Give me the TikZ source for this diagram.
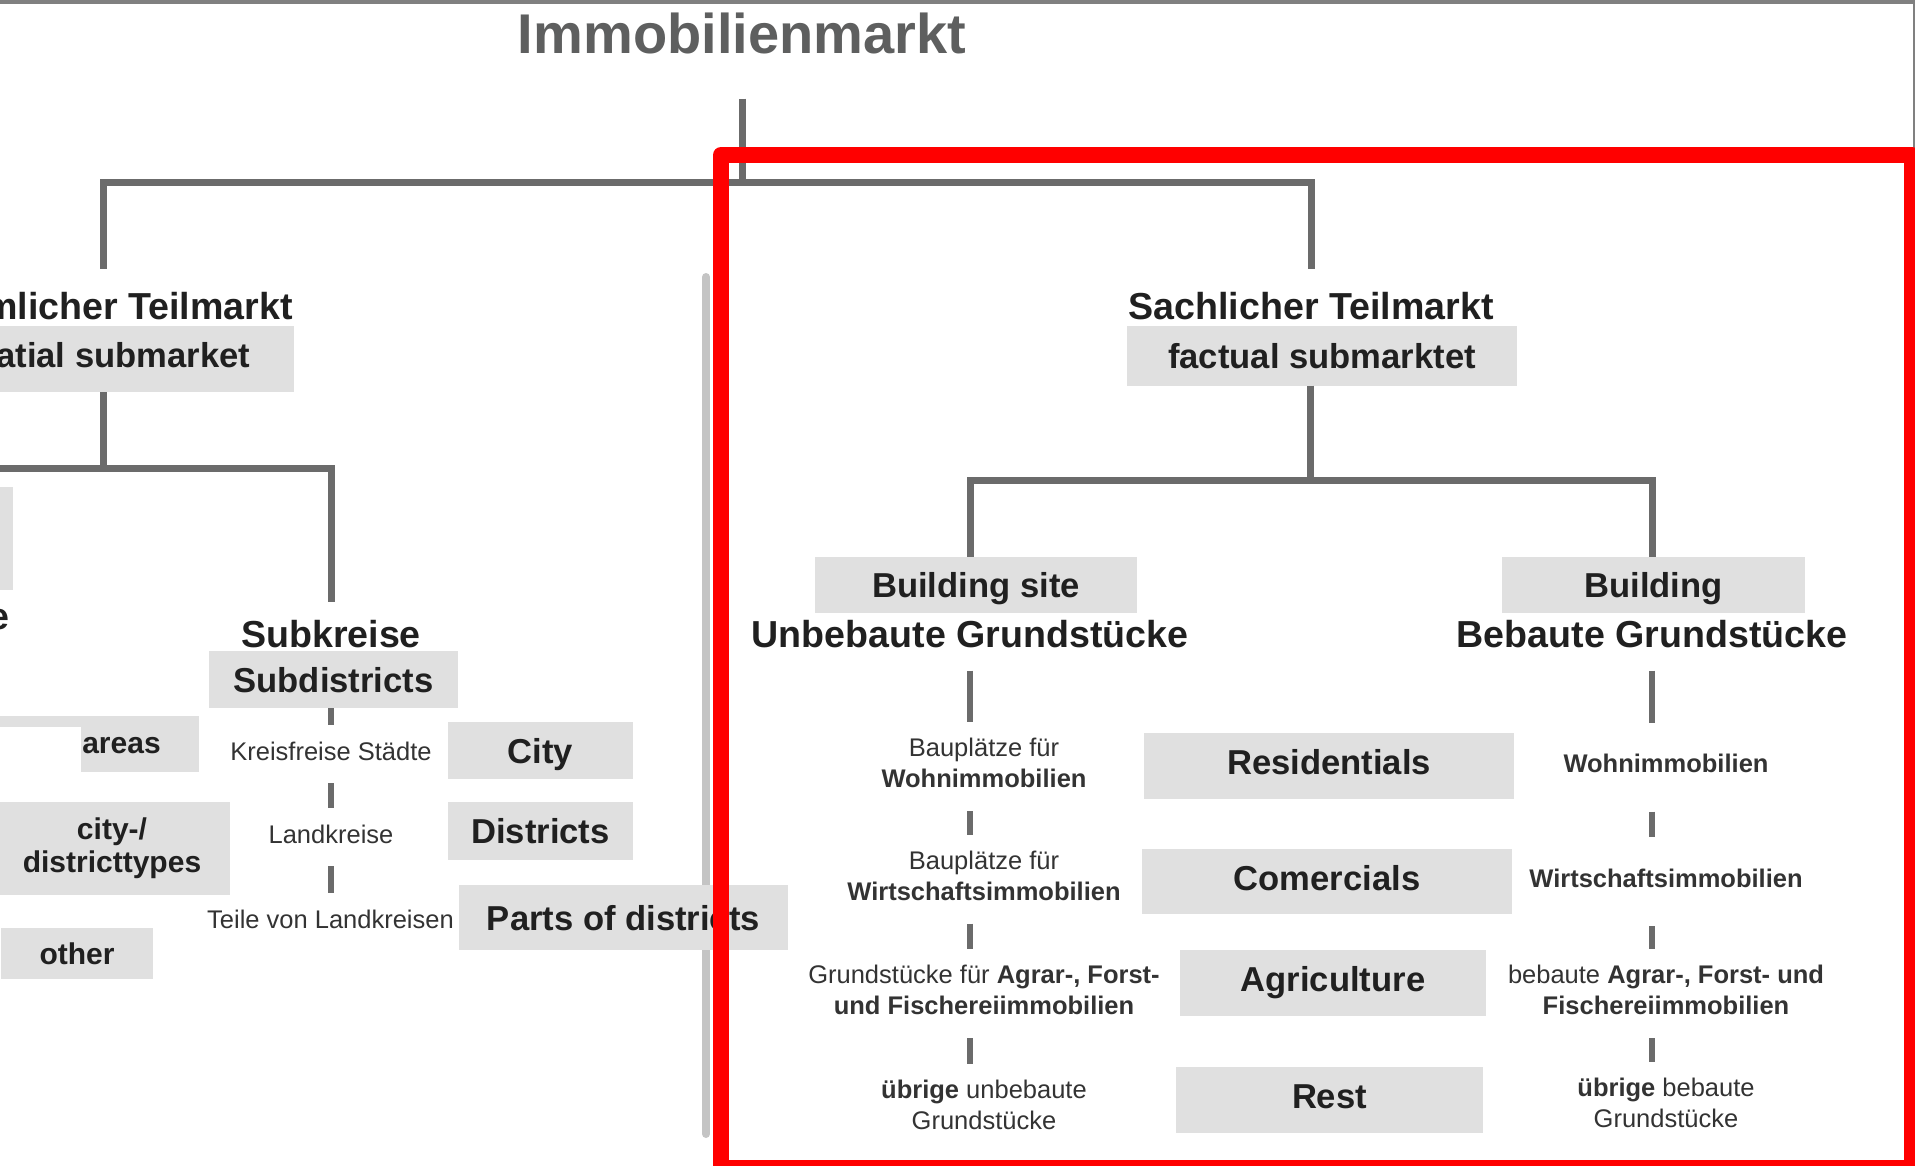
\documentclass[tikz,border=0pt]{standalone}
\usepackage{fontspec}
\setmainfont{Liberation Sans}

\definecolor{treegray}{HTML}{6B6B6B}
\definecolor{boxgray}{HTML}{E0E0E0}
\definecolor{railgray}{HTML}{C4C4C4}
\definecolor{titlegray}{HTML}{5E5F5F}
\definecolor{headtext}{HTML}{202020}
\definecolor{notetext}{HTML}{333333}
\definecolor{framegray}{HTML}{808080}
\definecolor{markred}{HTML}{FF0000}

\newcommand{\titlefnt}{\fontsize{56}{60}\selectfont\bfseries}
\newcommand{\headfnt}{\fontsize{37.6}{44}\selectfont\bfseries}
\newcommand{\boxfnt}{\fontsize{34.6}{40}\selectfont\bfseries}
\newcommand{\sidefnt}{\fontsize{30}{33}\selectfont\bfseries}
\newcommand{\notefnt}{\fontsize{25.5}{31}\selectfont}

\begin{document}
\begin{tikzpicture}[x=1pt, y=-1pt,
  tree/.style={draw=treegray, line width=7pt},
  sepbar/.style={draw=treegray, line width=6pt, shorten <=23pt, shorten >=15.5pt},
  head/.style={font=\headfnt, text=headtext, inner sep=0pt, anchor=base},
  greybox/.style={fill=boxgray, inner sep=0pt, text=headtext},
  labelbox/.style={greybox, font=\boxfnt, text height=25pt, text depth=0pt},
  usebox/.style={labelbox, text height=17pt},
  sidebox/.style={greybox, font=\sidefnt, align=center},
  note/.style={font=\notefnt, text=notetext, inner sep=0pt, align=center},
  slot/.style={note, minimum height=50pt}]
\useasboundingbox (0,0) rectangle (1915,1166);
\clip (0,0) rectangle (1915,1166);

% screenshot frame
\draw[framegray, line width=4pt] (0,2) -- (1915,2);
\draw[framegray, line width=2.5pt] (1913.8,0) -- (1913.8,150);

% light divider between the submarkets
\draw[railgray, line width=8pt, line cap=round] (706,277) -- (706,1134);

% title and junctions
\node[font=\titlefnt, text=titlegray, inner sep=0pt, anchor=base] (title) at (742,54) {Immobilienmarkt};
\coordinate (jtop) at (742,183);
\coordinate (jraum) at (103,468);
\coordinate (offleft) at (-30,468);
\coordinate (jsach) at (1310,480);

% level 1
\node[head] (raum) at (103,320) {Räumlicher Teilmarkt};
\node[usebox, minimum width=382pt, minimum height=66pt] (raumbox) at (103,359) {spatial submarket};
\node[head] (sach) at (1311,320) {Sachlicher Teilmarkt};
\node[labelbox, minimum width=390pt, minimum height=59pt] (sachbox) at (1322,356) {factual submarktet};

\draw[tree, shorten <=44pt] (title.south) -- (title.south |- jtop);
\draw[tree, shorten <=24pt, shorten >=24pt] (raum.north) |- (jtop) -| (sach.north);

% spatial branch (cut at the left edge)
\draw[tree] (raumbox.south) -- (jraum);
\node[greybox, minimum width=33pt, minimum height=103pt] (sidecut) at (-3.5,538.5) {};
\node[head, anchor=base east] (ecut) at (10,629) {e};
\node[head] (subk) at (331,647) {Subkreise};
\draw[tree, shorten >=18pt] (offleft) -| (subk.north);
\node[labelbox, minimum width=249pt, minimum height=57pt] (subbox) at (333.5,679.5) {Subdistricts};

\node[note, anchor=base] (k1) at (331,760) {Kreisfreise Städte};
\node[note, anchor=base] (k2) at (331,843) {Landkreise};
\node[note, anchor=base] (k3) at (330.5,928) {Teile von Landkreisen};
\draw[sepbar, shorten <=0pt, shorten >=16.5pt] (subbox.south -| subk) -- (subk.south |- k1.north);
\foreach \u/\l in {k1/k2, k2/k3}
  \draw[sepbar, shorten >=16.5pt] (subk.south |- \u.south) -- (subk.south |- \l.north);

\node[labelbox, minimum width=185pt, minimum height=57pt] (city) at (540.5,750.5) {City};
\node[labelbox, minimum width=185pt, minimum height=58pt] (distr) at (540.5,831) {Districts};
\node[labelbox, minimum width=329pt, minimum height=65pt] (parts) at (623.5,917.5) {Parts of districts};

% left column
\node[greybox, minimum width=219pt, minimum height=56pt] (areasbox) at (89.5,744) {};
\fill[white] (-20,727) rectangle (81,772);
\node[font=\sidefnt, text=headtext, inner sep=0pt, anchor=base] (areas) at (121.5,753) {areas};
\node[sidebox, minimum width=236pt, minimum height=93pt] (types) at (112,848.5) {city-/\\districttypes};
\node[sidebox, text height=21.5pt, text depth=0pt, minimum width=152pt, minimum height=51pt] (other) at (77,953.5) {other};

% factual branch
\node[labelbox, minimum width=322pt, minimum height=56pt] (siteen) at (976,585) {Building site};
\node[head] (site) at (970,647) {Unbebaute Grundstücke};
\node[labelbox, minimum width=303pt, minimum height=56pt] (builten) at (1653.5,585) {Building};
\node[head] (built) at (1652,647) {Bebaute Grundstücke};

\draw[tree] (jsach |- sachbox.south) -- (jsach);
\draw[tree] (siteen.north -| site) |- (jsach) -| (builten.north -| built);

% kinds of use
\node[usebox, minimum width=370pt, minimum height=66pt] (resi) at (1329,766) {Residentials};
\node[usebox, minimum width=370pt, minimum height=65pt] (comm) at (1327,881.5) {Comercials};
\node[usebox, minimum width=306pt, minimum height=66pt] (agri) at (1333,983) {Agriculture};
\node[usebox, minimum width=307pt, minimum height=66pt] (rest) at (1329.5,1100) {Rest};

% unbuilt plots
\node[slot] (n1) at (984,763) {Bauplätze für\\\textbf{Wohnimmobilien}};
\node[slot] (n2) at (984,875.5) {Bauplätze für\\\textbf{Wirtschaftsimmobilien}};
\node[slot] (n3) at (984,990) {Grundstücke für \textbf{Agrar-, Forst-}\\\textbf{und Fischereiimmobilien}};
\node[slot] (n4) at (984,1105) {\textbf{übrige} unbebaute\\Grundstücke};
\foreach \u/\l in {site/n1, n1/n2, n2/n3, n3/n4}
  \draw[sepbar] (site.south |- \u.south) -- (site.south |- \l.north);

% built plots
\node[slot] (r1) at (1666,763.5) {\textbf{Wohnimmobilien}};
\node[slot] (r2) at (1666,878) {\textbf{Wirtschaftsimmobilien}};
\node[slot] (r3) at (1666,990) {bebaute \textbf{Agrar-, Forst- und}\\\textbf{Fischereiimmobilien}};
\node[slot] (r4) at (1666,1102.5) {\textbf{übrige} bebaute\\Grundstücke};
\foreach \u/\l in {built/r1, r1/r2, r2/r3, r3/r4}
  \draw[sepbar] (built.south |- \u.south) -- (built.south |- \l.north);

% red marking
\draw[markred, line width=16pt, line join=round] (721,155) rectangle (1912,1168);
\end{tikzpicture}
\end{document}
